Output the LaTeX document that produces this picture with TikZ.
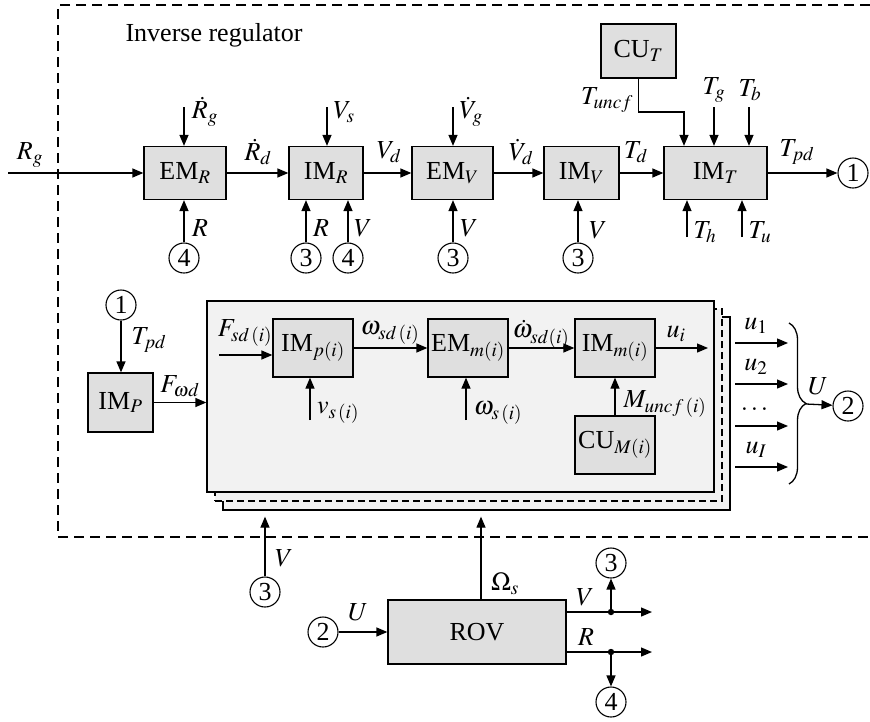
\documentclass[tikz,border=0pt]{standalone}
\usepackage{mathptmx}
\usepackage{fontspec}
\setmainfont{Liberation Serif}
\usepackage{amsmath}
\usetikzlibrary{arrows.meta, positioning, calc, decorations.pathreplacing}
\definecolor{boxgray}{RGB}{223,223,223}
\definecolor{panelgray}{RGB}{242,242,242}
\tikzset{
  blk/.style={draw, line width=1.3pt, fill=boxgray, inner sep=1pt},
  panel/.style={draw, line width=1.3pt, fill=panelgray, minimum width=507, inner sep=0pt},
  pin/.style={draw, circle, line width=1.1pt, minimum size=30, inner sep=0pt},
  sig/.style={line width=1.3pt, -{Triangle[length=11pt,width=9pt]}},
  wire/.style={line width=1.3pt},
  lbl/.style={inner sep=0pt},
}

\begin{document}
\begin{tikzpicture}[x=1pt, y=-1pt, font=\fontsize{26}{30}\selectfont]
  \useasboundingbox (0,0) rectangle (870,721);
  % regulator frame
  \draw[line width=1.2pt, dash pattern=on 10pt off 6pt] (870,5) -| (58,537) -- (870,537);
  \node[lbl] (title) at (214,35) {Inverse regulator};

  % top chain
  \node[blk, minimum width=82, minimum height=53] (emr) at (185,173) {EM$_R$};
  \node[blk, minimum width=74, minimum height=53] (imr) at (326,173) {IM$_R$};
  \node[blk, minimum width=81, minimum height=53] (emv) at (452.5,173) {EM$_V$};
  \node[blk, minimum width=75, minimum height=53] (imv) at (581.5,173) {IM$_V$};
  \node[blk, minimum width=103, minimum height=53] (imt) at (715.5,173) {IM$_T$};
  \node[blk, minimum width=75, minimum height=54] (cut) at (638.5,51) {CU$_T$};
  \node[pin] (p1a) at (853,173) {1};

  \coordinate (rgin) at (8,173);
  \draw[sig] (rgin) -- (emr);
  \draw[sig] (emr) -- (imr);
  \draw[sig] (imr) -- (emv);
  \draw[sig] (emv) -- (imv);
  \draw[sig] (imv) -- (imt);
  \draw[sig] (imt) -- (p1a);
  \node[lbl] (lrg) at (30,155) {$R_g$};
  \node[lbl] (lrdd) at (258,152) {$\dot R_d$};
  \node[lbl] (lvd) at (389,152) {$V_d$};
  \node[lbl] (lvdd) at (521,152) {$\dot V_d$};
  \node[lbl] (ltd) at (636,152) {$T_d$};
  \node[lbl] (ltpd) at (797,152) {$T_{pd}$};

  % inputs from above
  \coordinate (rgdin) at (184,107);
  \coordinate (vsin) at (327,107);
  \coordinate (vgdin) at (453,107);
  \coordinate (tgin) at (714,107);
  \coordinate (tbin) at (749,107);
  \draw[sig] (rgdin) -- (rgdin |- emr.north);
  \draw[sig] (vsin) -- (vsin |- imr.north);
  \draw[sig] (vgdin) -- (vgdin |- emv.north);
  \draw[sig] (tgin) -- (tgin |- imt.north);
  \draw[sig] (tbin) -- (tbin |- imt.north);
  \node[lbl] (lrgd) at (205,112) {$\dot R_g$};
  \node[lbl] (lvs) at (344,112) {$V_s$};
  \node[lbl] (lvgd) at (471,112) {$\dot V_g$};
  \node[lbl] (ltg) at (714,90) {$T_g$};
  \node[lbl] (ltb) at (750,90) {$T_b$};
  \coordinate (tbend) at (684,112);
  \draw[sig] (cut) |- (tbend) -- (tbend |- imt.north);
  \node[lbl] (ltun) at (607,100) {$T_{uncf}$};

  % inputs from below
  \node[pin] (p4a) at (184,258) {4};
  \node[pin] (p3a) at (306,258) {3};
  \node[pin] (p4b) at (348,258) {4};
  \node[pin] (p3b) at (453,258) {3};
  \node[pin] (p3c) at (578,258) {3};
  \draw[sig] (p4a) -- (p4a |- emr.south);
  \draw[sig] (p3a) -- (p3a |- imr.south);
  \draw[sig] (p4b) -- (p4b |- imr.south);
  \draw[sig] (p3b) -- (p3b |- emv.south);
  \draw[sig] (p3c) -- (p3c |- imv.south);
  \node[lbl] (lra) at (200,228) {$R$};
  \node[lbl] (lrb) at (321,228) {$R$};
  \node[lbl] (lva) at (363,228) {$V$};
  \node[lbl] (lvb) at (469,228) {$V$};
  \node[lbl] (lvc) at (598,230) {$V$};
  \coordinate (thin) at (687,237);
  \coordinate (tuin) at (742,237);
  \draw[sig] (thin) -- (thin |- imt.south);
  \draw[sig] (tuin) -- (tuin |- imt.south);
  \node[lbl] (lth) at (705,232) {$T_h$};
  \node[lbl] (ltu) at (760,232) {$T_u$};

  % propulsion part
  \node[pin] (p1b) at (121,305) {1};
  \node[blk, minimum width=65, minimum height=59] (imp) at (120.5,402.5) {IM$_P$};
  \draw[sig] (p1b) -- (p1b |- imp.north);
  \node[lbl] (ltpdb) at (149,340) {$T_{pd}$};

  \node[panel, minimum height=193] (bk3) at (476.5,413.5) {};
  \node[panel, minimum height=192, dash pattern=on 7pt off 4pt] (bk2) at (468.5,405) {};
  \node[panel, minimum height=191] (bk1) at (460.5,396.5) {};
  \draw[sig] (imp) -- (imp -| bk1.west);
  \node[lbl] (lfwd) at (180,386) {$F_{\omega d}$};

  \node[blk, minimum width=80, minimum height=58] (impi) at (313,348) {IM$_{p(i)}$};
  \node[blk, minimum width=80, minimum height=58] (emmi) at (468,348) {EM$_{m(i)}$};
  \node[blk, minimum width=80, minimum height=58] (immi) at (615,348) {IM$_{m(i)}$};
  \node[blk, minimum width=80, minimum height=58] (cumi) at (615,445) {CU$_{M(i)}$};
  \coordinate (fsdin) at (219,355);
  \coordinate (uiout) at (708,348);
  \draw[sig] (fsdin) -- (fsdin -| impi.west);
  \draw[sig] (impi) -- (emmi);
  \draw[sig] (emmi) -- (immi);
  \draw[sig] (immi) -- (uiout);
  \draw[sig] (cumi) -- (immi);
  \coordinate (vsiin) at (310,420);
  \coordinate (wsiin) at (466,420);
  \draw[sig] (vsiin) -- (vsiin |- impi.south);
  \draw[sig] (wsiin) -- (wsiin |- emmi.south);
  \node[lbl] (lfsd) at (245,333) {$F_{sd\,(i)}$};
  \node[lbl] (lwsd) at (390,333) {$\omega_{sd\,(i)}$};
  \node[lbl] (lwsdd) at (541,334) {$\dot\omega_{sd(i)}$};
  \node[lbl] (lui) at (676,334) {$u_i$};
  \node[lbl] (lvsi) at (338,413) {$v_{s\,(i)}$};
  \node[lbl] (lwsi) at (498,413) {$\omega_{s\,(i)}$};
  \node[lbl] (lmun) at (665,404) {$M_{uncf\,(i)}$};

  % outputs u_1 ... u_I
  \foreach \y/\n [count=\k] in {343/u_1, 384/u_2, 426/\dots, 467/u_I} {
    \coordinate (us\k) at (735,\y);
    \coordinate (ue\k) at (788,\y);
    \draw[sig] (us\k) -- (ue\k);
    \node[lbl] (lu\k) at (756,\y-17) {$\n$};
  }
  \coordinate (brtop) at (789,323);
  \coordinate (brbot) at (789,484);
  \coordinate (brtip) at (806,404);
  \draw[wire, decorate, decoration={brace, amplitude=17pt}] (brtop) -- (brbot);
  \node[pin] (p2a) at (848,406) {2};
  \draw[sig] (brtip) -- (p2a);
  \node[lbl] (lub) at (818,386) {$U$};

  % vehicle
  \node[blk, minimum width=178, minimum height=64] (rov) at (477,632) {ROV};
  \node[pin] (p3d) at (265,592) {3};
  \node[pin] (p2b) at (323,632) {2};
  \draw[sig, shorten >=6pt] (p3d) -- (p3d |- bk3.south);
  \draw[sig, shorten >=6pt] ([xshift=4]rov.north) -- ([xshift=4]rov.north |- bk3.south);
  \draw[sig] (p2b) -- (rov);
  \node[lbl] (lvd2) at (284,558) {$V$};
  \node[lbl] (lom) at (505,584) {$\Omega_s$};
  \node[lbl] (lu2) at (358,612) {$U$};

  \coordinate (vdot) at (611,612);
  \coordinate (vend) at (652,612);
  \coordinate (rdot) at (611,652);
  \coordinate (rend) at (652,652);
  \node[pin] (p3e) at (611,563) {3};
  \node[pin] (p4c) at (611,702) {4};
  \draw[sig] (rov.east |- vdot) -- (vend);
  \draw[sig] (rov.east |- rdot) -- (rend);
  \fill (vdot) circle (3.2);
  \fill (rdot) circle (3.2);
  \draw[sig] (vdot) -- (p3e);
  \draw[sig] (rdot) -- (p4c);
  \node[lbl] (lvo) at (585,597) {$V$};
  \node[lbl] (lro) at (586,637) {$R$};
\end{tikzpicture}
\end{document}
